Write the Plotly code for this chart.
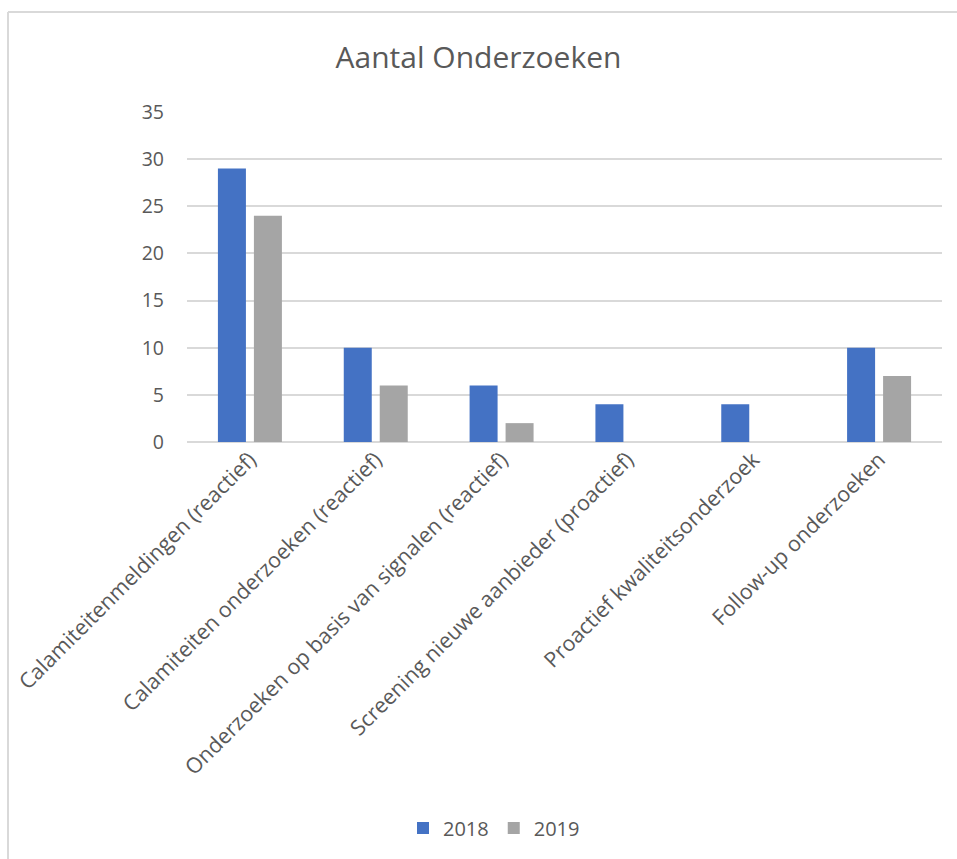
import plotly.graph_objects as go

categories = [
    "Calamiteitenmeldingen (reactief)",
    "Calamiteiten onderzoeken (reactief)",
    "Onderzoeken op basis van signalen (reactief)",
    "Screening nieuwe aanbieder (proactief)",
    "Proactief kwaliteitsonderzoek",
    "Follow-up onderzoeken",
]
values_2018 = [29, 10, 6, 4, 4, 10]
values_2019 = [24, 6, 2, 0, 0, 7]
y_ticks = [0, 5, 10, 15, 20, 25, 30, 35]

W, H = 957, 859
L, R, T, B = 187, 15, 112, 417
pw, ph = W - L - R, H - T - B

def px_x(x):
    return (x - L) / pw

def px_y(y):
    return (H - B - y) / ph

font = "Open Sans, Noto Sans, sans-serif"
txt = "#595959"

fig = go.Figure()
fig.add_trace(go.Bar(name="2018", x=categories, y=values_2018,
                     marker=dict(color="#4472C4", line=dict(width=0))))
fig.add_trace(go.Bar(name="2019", x=categories, y=values_2019,
                     marker=dict(color="#A5A5A5", line=dict(width=0))))

fig.update_layout(
    width=W, height=H,
    margin=dict(l=L, r=R, t=T, b=B),
    paper_bgcolor="white", plot_bgcolor="white",
    barmode="group", bargap=0.428, bargroupgap=0.222,
    title=dict(text="Aantal Onderzoeken", x=0.5, xanchor="center",
               y=1 - 57 / H, yanchor="middle",
               font=dict(family=font, size=30, color=txt)),
    font=dict(family=font, color=txt),
    showlegend=True,
    legend=dict(orientation="h", x=px_x(494), xanchor="center",
                y=px_y(828), yanchor="middle",
                font=dict(family=font, size=20, color=txt),
                itemwidth=30, traceorder="normal"),
    xaxis=dict(tickangle=-45, tickfont=dict(family=font, size=21.4, color=txt),
               showgrid=False, showline=False, ticks="", zeroline=False),
    yaxis=dict(range=[0, 35], tickvals=y_ticks, showgrid=True, gridcolor="#D9D9D9",
               gridwidth=2, zeroline=True, zerolinecolor="#D9D9D9", zerolinewidth=2,
               tickfont=dict(family=font, size=19.5, color=txt), ticks="",
               ticklabelstandoff=22, showline=False),
    shapes=[
        dict(type="line", xref="paper", yref="paper", x0=px_x(8), x1=px_x(957),
             y0=px_y(12), y1=px_y(12), line=dict(color="#D9D9D9", width=2)),
        dict(type="line", xref="paper", yref="paper", x0=px_x(8), x1=px_x(8),
             y0=px_y(12), y1=px_y(859), line=dict(color="#D9D9D9", width=2)),
    ],
)

fig.write_html("out.html", config={"displayModeBar": False},
               post_script="document.body.style.margin='0';document.body.style.overflow='hidden';")
